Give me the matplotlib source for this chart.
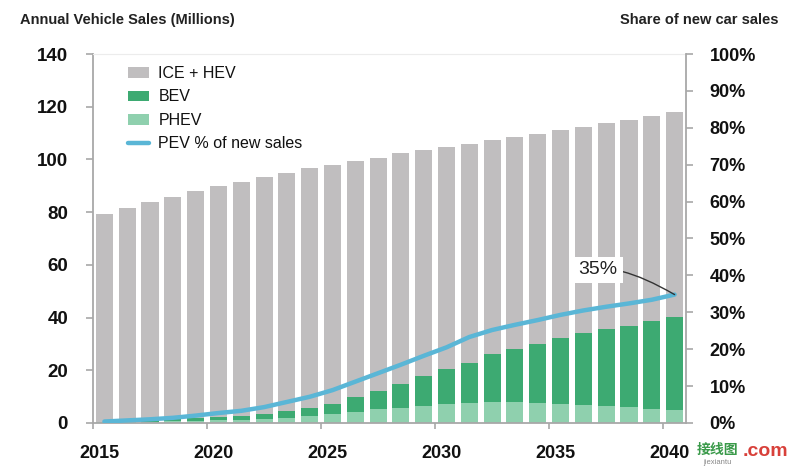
import matplotlib
matplotlib.use('Agg')
import matplotlib.pyplot as plt
import matplotlib.transforms as mtransforms
import numpy as np

plt.rcParams['font.family'] = ['Liberation Sans Narrow', 'Liberation Sans', 'DejaVu Sans']

years = np.arange(2015, 2041)
total = [79.3, 81.7, 83.7, 85.9, 88.1, 90.0, 91.6, 93.4, 95.0, 96.6, 98.0, 99.4, 100.7,
         102.3, 103.6, 104.8, 106.0, 107.2, 108.4, 109.8, 111.2, 112.4, 113.8, 115.1, 116.5, 117.9]
ev_total = [0.5, 0.8, 1.1, 1.4, 1.8, 2.2, 2.7, 3.4, 4.4, 5.6, 7.2, 9.7, 12.3,
            14.7, 17.7, 20.6, 22.9, 26.0, 28.1, 29.8, 32.1, 34.0, 35.7, 36.9, 38.8, 40.3]
phev = [0.2, 0.3, 0.4, 0.6, 0.8, 1.0, 1.3, 1.6, 2.0, 2.7, 3.4, 4.3, 5.2,
        5.8, 6.6, 7.2, 7.6, 7.8, 7.8, 7.5, 7.2, 6.8, 6.4, 5.9, 5.3, 4.9]
pev_share = [0.4, 0.7, 1.0, 1.4, 2.0, 2.7, 3.3, 4.3, 5.7, 7.1, 8.9, 11.2, 13.5,
             15.8, 18.2, 20.5, 23.3, 25.2, 26.6, 27.9, 29.3, 30.5, 31.5, 32.4, 33.4, 34.8]

total = np.array(total)
ev_total = np.array(ev_total)
phev = np.array(phev)
bev = ev_total - phev
ice = total - ev_total

c_ice = '#c0bebf'
c_bev = '#3daa72'
c_phev = '#8fd0ae'
c_line = '#5ab6d6'
c_spine = '#a8a8a8'

fig = plt.figure(figsize=(8.08, 4.66), dpi=100)
ax = fig.add_axes([0.1151, 0.0923, 0.849 - 0.1151, 0.8841 - 0.0923])
ax2 = ax.twinx()

x = years + 0.5
w = 0.75
ax.bar(x, phev, w, color=c_phev, label='PHEV', zorder=2)
ax.bar(x, bev, w, bottom=phev, color=c_bev, label='BEV', zorder=2)
ax.bar(x, ice, w, bottom=ev_total, color=c_ice, label='ICE + HEV', zorder=2)

ax2.plot(x, pev_share, color=c_line, linewidth=3.2, solid_capstyle='round',
         label='PEV % of new sales')

ax.set_xlim(2015, 2041)
ax.set_ylim(0, 140)
ax2.set_ylim(0, 100)

ax.set_yticks(np.arange(0, 141, 20))
ax2.set_yticks(np.arange(0, 101, 10))
ax2.set_yticklabels(['%d%%' % v for v in range(0, 101, 10)])
ax.set_xticks(np.arange(2015, 2041, 5))

for a in (ax, ax2):
    for s in a.spines.values():
        s.set_visible(False)
ax.spines['left'].set_visible(True)
ax.spines['bottom'].set_visible(True)
ax.spines['top'].set_visible(True)
ax2.spines['right'].set_visible(True)
ax.spines['left'].set_color(c_spine)
ax.spines['bottom'].set_color(c_spine)
ax.spines['top'].set_color('#ececec')
ax2.spines['right'].set_color(c_spine)
for s in ('left', 'bottom'):
    ax.spines[s].set_linewidth(1.3)
ax2.spines['right'].set_linewidth(1.3)

ax.tick_params(axis='y', length=5, width=1.2, color=c_spine, pad=13,
               labelsize=13.5, labelcolor='#111111')
ax.tick_params(axis='x', length=4, width=1.2, color=c_spine, pad=12,
               labelsize=13, labelcolor='#111111')
ax2.tick_params(axis='y', length=5, width=1.2, color=c_spine, pad=12,
                labelsize=13, labelcolor='#111111')
for lab in ax.get_yticklabels() + ax.get_xticklabels() + ax2.get_yticklabels():
    lab.set_fontweight('bold')

offset = mtransforms.ScaledTranslation(6 / 100, 0, fig.dpi_scale_trans)
for lab in ax.get_xticklabels():
    lab.set_transform(lab.get_transform() + offset)

ax.set_zorder(1)
ax2.set_zorder(2)
ax2.patch.set_visible(False)

h1, l1 = ax.get_legend_handles_labels()
h2, l2 = ax2.get_legend_handles_labels()
handles = [h1[2], h1[1], h1[0], h2[0]]
labels = [l1[2], l1[1], l1[0], l2[0]]
leg = ax.legend(handles, labels, loc='upper left', bbox_to_anchor=(0.035, 1.006),
                frameon=False, fontsize=11.5, handlelength=1.3, handleheight=0.65,
                handletextpad=0.6, labelspacing=0.52)
for t in leg.get_texts():
    t.set_color('#111111')

ax2.annotate('35%', xy=(x[-1], pev_share[-1]), xytext=(2037.15, 41.5),
             fontsize=14, ha='center', va='center', color='#222222',
             bbox=dict(boxstyle='square,pad=0.25', fc='white', ec='none'),
             arrowprops=dict(arrowstyle='-', color='#333333', lw=1.0,
                             connectionstyle='angle3,angleA=10,angleB=-30',
                             shrinkA=0, shrinkB=0))

fig.text(20 / 808, 1 - 20 / 466, 'Annual Vehicle Sales (Millions)', fontsize=10.5,
         fontweight='bold', color='#222222', ha='left', va='center')
fig.text(778 / 808, 1 - 20 / 466, 'Share of new car sales', fontsize=10.5,
         fontweight='bold', color='#222222', ha='right', va='center')

fig.text(697 / 808, 1 - 450 / 466, '接线图', fontsize=10, color='#3a9a4a',
         family=['Noto Sans CJK SC', 'DejaVu Sans'], ha='left', va='center', fontweight='bold')
fig.text(743 / 808, 1 - 451 / 466, '.com', fontsize=14, color='#d8403a',
         ha='left', va='center', fontweight='bold')
fig.text(703 / 808, 1 - 463 / 466, 'jiexiantu', fontsize=5.5, color='#888888',
         ha='left', va='center')

fig.savefig('out.png', dpi=100)
